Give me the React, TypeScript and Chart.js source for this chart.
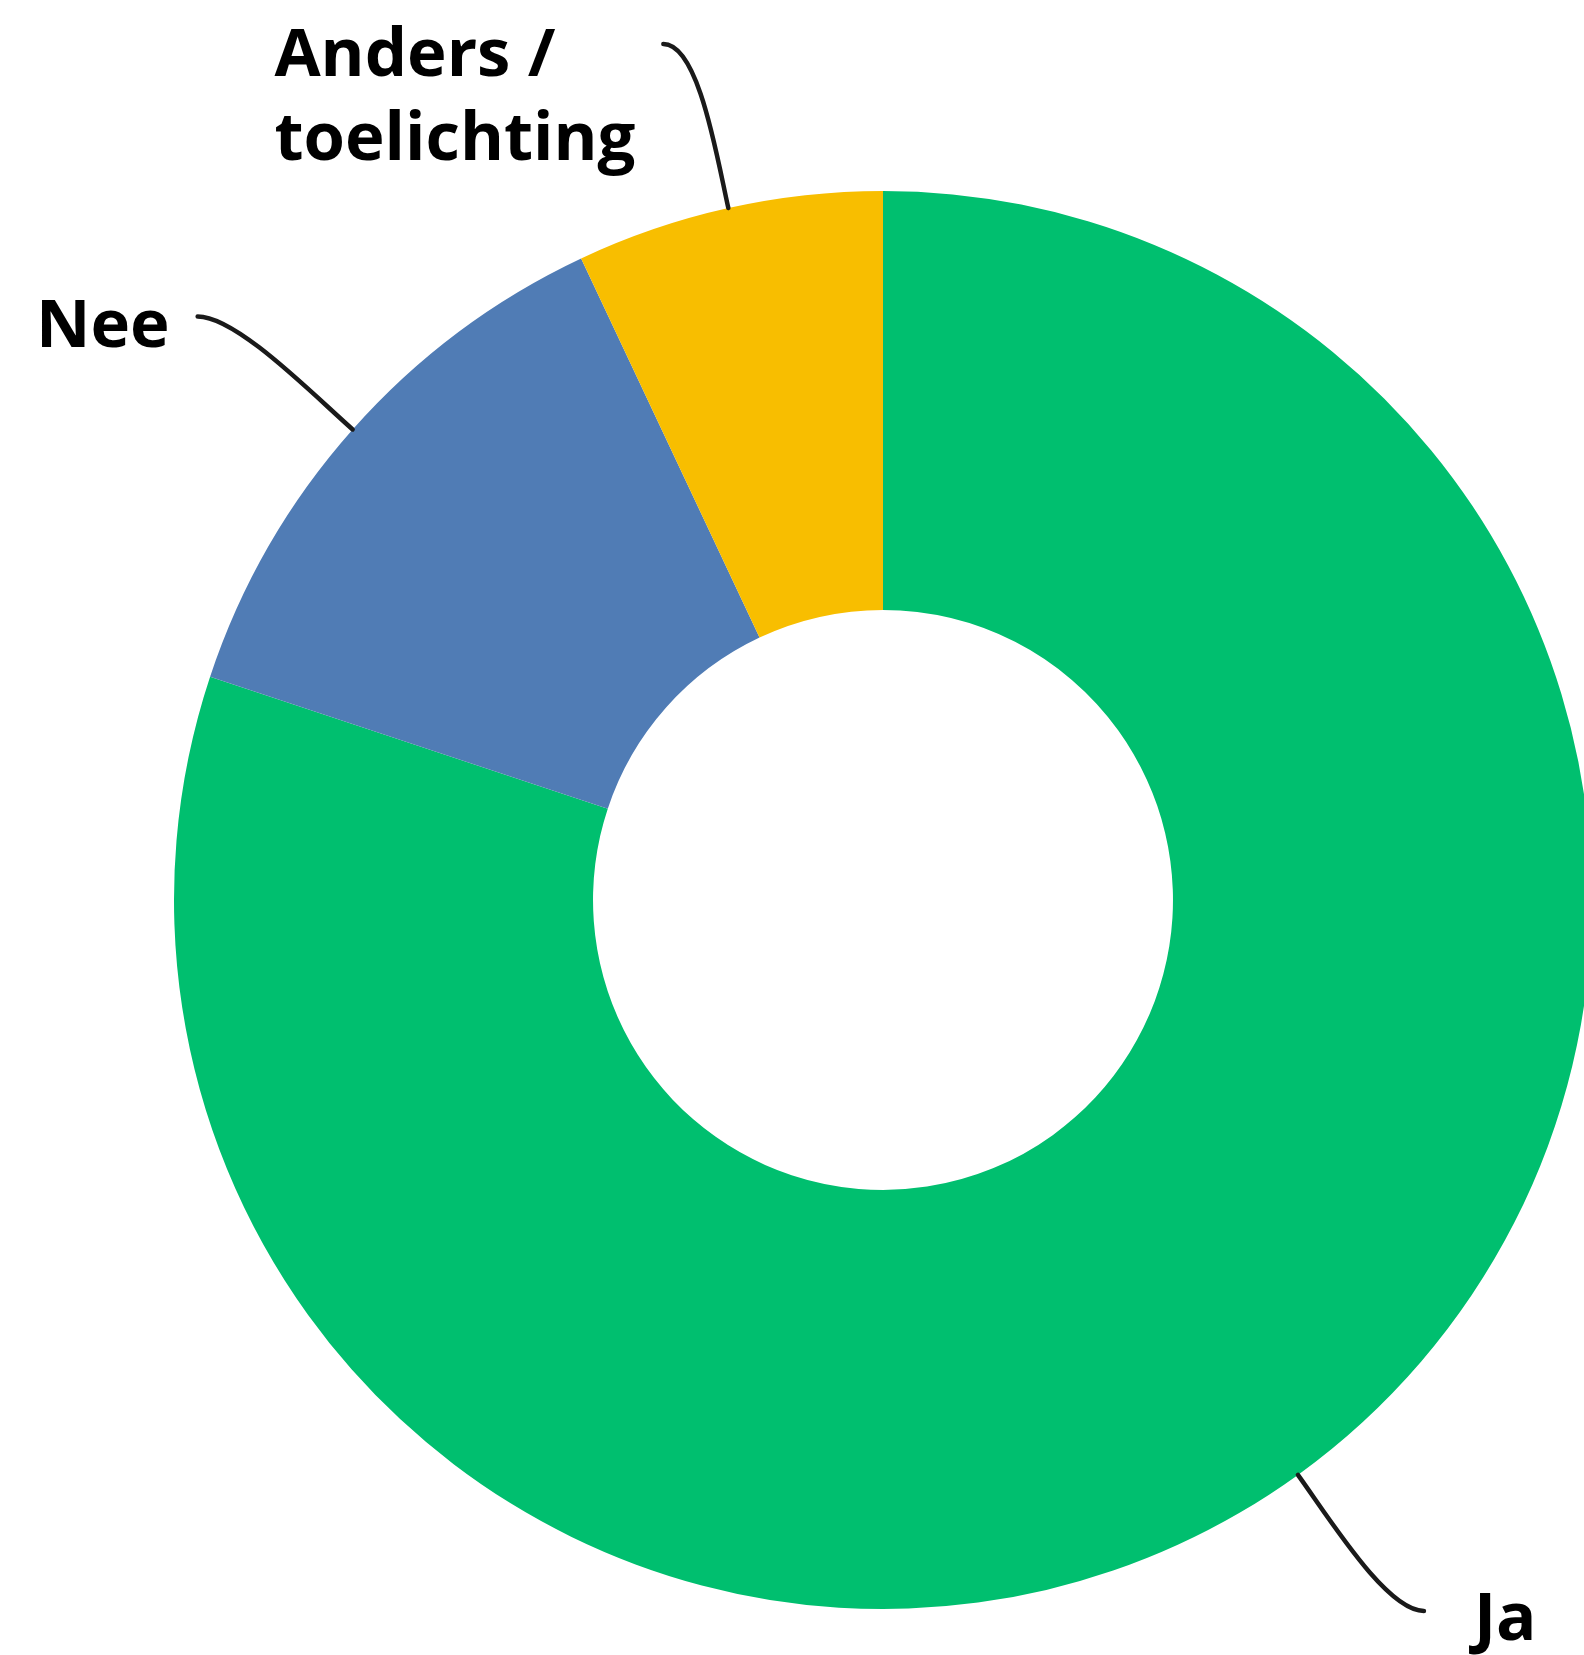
import React, { useEffect, useRef } from "react";
import { Chart, registerables } from "chart.js";

Chart.register(...registerables);

const categories: (string | string[])[] = ["Ja", "Nee", ["Anders /", "toelichting"]];
const values: number[] = [80.1, 12.9, 7.0];
const colors: string[] = ["#00BF6F", "#507CB5", "#F8BE00"];

// leader-line end offsets (relative to slice anchor) and text placement
const leaderPlacement = [
  { dx: 126, dy: 136, side: "right", gap: 50, baseline: 29 },
  { dx: -155, dy: -113, side: "left", gap: 28, baseline: 31 },
  { dx: -65, dy: -164, side: "left", gap: 28, baseline: 32 },
];

const FONT = "700 67px 'Open Sans', 'DejaVu Sans', sans-serif";
const LINE_STEP = 84;

const leaderPlugin = {
  id: "leaderLabels",
  afterDraw(chart: any) {
    const ctx = chart.ctx as CanvasRenderingContext2D;
    const meta = chart.getDatasetMeta(0);
    meta.data.forEach((arc: any, i: number) => {
      const p = arc.getProps(["x", "y", "startAngle", "endAngle", "outerRadius"], true);
      const mid = (p.startAngle + p.endAngle) / 2;
      const ux = Math.cos(mid);
      const uy = Math.sin(mid);
      const x0 = p.x + ux * p.outerRadius;
      const y0 = p.y + uy * p.outerRadius;
      const pl = leaderPlacement[i];
      const x3 = x0 + pl.dx;
      const y3 = y0 + pl.dy;
      const dist = Math.hypot(pl.dx, pl.dy);
      const sgn = pl.side === "right" ? 1 : -1;
      ctx.save();
      ctx.strokeStyle = "#1a1a1a";
      ctx.lineWidth = 4.5;
      ctx.lineCap = "round";
      ctx.beginPath();
      ctx.moveTo(x0, y0);
      ctx.bezierCurveTo(
        x0 + ux * dist * 0.3,
        y0 + uy * dist * 0.3,
        x3 - sgn * dist * 0.2,
        y3,
        x3,
        y3
      );
      ctx.stroke();

      const label = categories[i];
      const lines = Array.isArray(label) ? label : [label];
      ctx.font = FONT;
      ctx.fillStyle = "#000";
      ctx.textBaseline = "alphabetic";
      ctx.textAlign = "left";
      const widths = lines.map((l) => ctx.measureText(l).width);
      const maxW = Math.max(...widths);
      const left = pl.side === "right" ? x3 + pl.gap : x3 - pl.gap - maxW;
      lines.forEach((l, k) => {
        ctx.fillText(l, left, y3 + pl.baseline + k * LINE_STEP);
      });
      ctx.restore();
    });
  },
};

export default function App() {
  const ref = useRef<HTMLCanvasElement | null>(null);
  useEffect(() => {
    if (!ref.current) return;
    const chart = new Chart(ref.current, {
      type: "doughnut",
      data: {
        labels: categories as any,
        datasets: [
          {
            data: values,
            backgroundColor: colors,
            borderWidth: 0,
          },
        ],
      },
      options: {
        animation: false,
        responsive: true,
        maintainAspectRatio: false,
        cutout: "40.9%",
        layout: { padding: { left: 174, top: 191, right: 8, bottom: 46 } },
        plugins: {
          legend: { display: false },
          tooltip: { enabled: false },
        },
      },
      plugins: [leaderPlugin],
    });
    return () => chart.destroy();
  }, []);
  return (
    <div
      style={{
        position: "fixed",
        left: 0,
        top: 0,
        width: "100vw",
        height: "100vh",
        overflow: "hidden",
        background: "#fff",
      }}
    >
      <div style={{ position: "absolute", left: 0, top: 0, width: 1600, height: 1655 }}>
        <canvas ref={ref} style={{ display: "block" }} />
      </div>
    </div>
  );
}
